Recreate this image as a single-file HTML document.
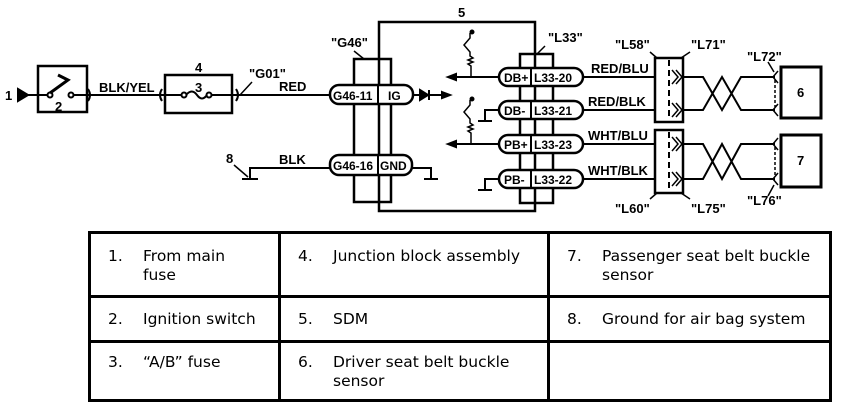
<!DOCTYPE html>
<html><head><style>
body{margin:0;background:#fff;width:864px;height:410px;overflow:hidden}
svg{position:absolute;left:0;top:0}
.l{font-family:"Liberation Sans",sans-serif;font-weight:bold;font-size:13px}
.s{font-size:12px}
table{position:absolute;left:88px;top:231px;border-collapse:collapse;font-family:"DejaVu Sans","Liberation Sans",sans-serif;font-size:15.5px;color:#000}
td{border:3px solid #000;vertical-align:top;padding:13px 4px 0 17px;line-height:19px;box-sizing:border-box}
td span{display:inline-block;width:35px}
</style></head><body>
<svg width="864" height="230" viewBox="0 0 864 230" fill="none" stroke="#000" stroke-width="2">
<text class="l" x="5" y="100" fill="#000" stroke="none">1</text>
<polygon points="18,89 28,95 18,101" fill="#000"/>
<line x1="28" y1="95" x2="165" y2="95"/>
<rect x="38" y="66" width="49" height="46" stroke-width="2.5" fill="#fff"/>
<line x1="39" y1="95" x2="48" y2="95"/><line x1="74" y1="95" x2="92" y2="95"/>
<circle cx="50" cy="95" r="2.5" fill="#fff"/><circle cx="71" cy="95" r="2.5" fill="#fff"/>
<path d="M50,93 L68,80 L58,75" stroke-width="3"/>
<text class="l" x="55" y="111" fill="#000" stroke="none">2</text>
<path d="M88,89 Q92,95 88,101"/>
<text class="l" x="99" y="92" fill="#000" stroke="none">BLK/YEL</text>
<path d="M162,89 Q158,95 162,101"/>
<rect x="165" y="75" width="67" height="38" stroke-width="2.5" fill="#fff"/>
<text class="l" x="195" y="72" fill="#000" stroke="none">4</text>
<line x1="166" y1="95" x2="181" y2="95"/><line x1="212" y1="95" x2="232" y2="95"/>
<circle cx="184" cy="95" r="2.5" fill="#fff"/><circle cx="209" cy="95" r="2.5" fill="#fff"/>
<path d="M186,95 Q192,88 197,95 Q202,102 207,95"/>
<text class="l" x="195" y="92" fill="#000" stroke="none">3</text>
<line x1="232" y1="95" x2="330" y2="95"/>
<path d="M236,89 Q240,95 236,101"/><line x1="240" y1="95" x2="252" y2="82" stroke-width="1.5"/>
<text class="l" x="249" y="78" fill="#000" stroke="none">"G01"</text>
<text class="l" x="279" y="91" fill="#000" stroke="none">RED</text>
<text class="l" x="226" y="163" fill="#000" stroke="none">8</text>
<line x1="234" y1="165" x2="248" y2="177" stroke-width="1.5"/>
<path d="M250,178 V168 H330"/><line x1="242" y1="179" x2="258" y2="179"/>
<text class="l" x="279" y="164" fill="#000" stroke="none">BLK</text>
<rect x="379" y="22" width="156" height="189" stroke-width="2.5"/>
<text class="l" x="458" y="17" fill="#000" stroke="none">5</text>
<rect x="354" y="59" width="37" height="143" stroke-width="2.5"/>
<text class="l" x="331" y="47" fill="#000" stroke="none">"G46"</text>
<line x1="354" y1="51" x2="364" y2="59" stroke-width="1.5"/>
<rect x="330" y="85" width="83" height="19" rx="9" stroke-width="2.5" fill="#fff"/>
<line x1="378" y1="85" x2="378" y2="104"/>
<text class="l s" x="333" y="100" fill="#000" stroke="none">G46-11</text>
<text class="l s" x="388" y="100" fill="#000" stroke="none">IG</text>
<rect x="330" y="155" width="82" height="20" rx="9" stroke-width="2.5" fill="#fff"/>
<line x1="378" y1="155" x2="378" y2="175"/>
<text class="l s" x="333" y="170" fill="#000" stroke="none">G46-16</text>
<text class="l s" x="380" y="170" fill="#000" stroke="none">GND</text>
<line x1="413" y1="95" x2="450" y2="95"/>
<polygon points="420,90 428,95 420,100" fill="#000"/><line x1="429" y1="90" x2="429" y2="100"/>
<polygon points="442,92 450,95 442,98" fill="#000"/>
<path d="M412,168 H431 V178"/><line x1="424" y1="179" x2="438" y2="179"/>
<rect x="520" y="54" width="33" height="149" stroke-width="2.5"/>
<text class="l" x="548" y="42" fill="#000" stroke="none">"L33"</text>
<line x1="545" y1="46" x2="537" y2="54" stroke-width="1.5"/>
<g fill="#fff" stroke-width="2.5">
<rect x="499" y="68" width="84" height="18" rx="9"/>
<rect x="499" y="101" width="84" height="18" rx="9"/>
<rect x="499" y="135" width="84" height="18" rx="9"/>
<rect x="499" y="170" width="84" height="18" rx="9"/>
</g>
<g class="l s" fill="#000" stroke="none">
<text x="504" y="82">DB+</text><text x="534" y="82">L33-20</text>
<text x="504" y="115">DB-</text><text x="534" y="115">L33-21</text>
<text x="504" y="149">PB+</text><text x="534" y="149">L33-23</text>
<text x="504" y="184">PB-</text><text x="534" y="184">L33-22</text>
</g>
<line x1="531" y1="68" x2="531" y2="86"/><line x1="531" y1="101" x2="531" y2="119"/>
<line x1="531" y1="135" x2="531" y2="153"/><line x1="531" y1="170" x2="531" y2="188"/>
<line x1="450" y1="77" x2="499" y2="77"/><polygon points="448,77 456,74 456,80" fill="#000"/>
<path d="M471,77 V66 l-3,-2 l5,-2 l-5,-2 l5,-2 l-3,-2 V52 l-6,-7 l6,-7 V33" stroke-width="1.5"/><circle cx="472" cy="32" r="1.5" fill="#000"/>
<line x1="450" y1="144" x2="499" y2="144"/><polygon points="448,144 456,141 456,147" fill="#000"/>
<path d="M471,144 V133 l-3,-2 l5,-2 l-5,-2 l5,-2 l-3,-2 V119 l-6,-7 l6,-7 V100" stroke-width="1.5"/><circle cx="472" cy="99" r="1.5" fill="#000"/>
<path d="M499,110 H485 V120"/><line x1="478" y1="121" x2="492" y2="121"/>
<path d="M499,179 H485 V189"/><line x1="478" y1="190" x2="492" y2="190"/>
<g>
<line x1="583" y1="77" x2="655" y2="77"/><line x1="583" y1="110" x2="655" y2="110"/>
<line x1="583" y1="144" x2="655" y2="144"/><line x1="583" y1="179" x2="655" y2="179"/>
</g>
<g class="l" fill="#000" stroke="none">
<text x="591" y="73">RED/BLU</text><text x="588" y="106">RED/BLK</text>
<text x="588" y="140">WHT/BLU</text><text x="588" y="175">WHT/BLK</text>
<text x="615" y="49">"L58"</text><text x="691" y="49">"L71"</text>
<text x="747" y="61">"L72"</text>
<text x="615" y="213">"L60"</text><text x="691" y="213">"L75"</text>
<text x="747" y="205">"L76"</text>
<text x="797" y="97">6</text><text x="797" y="165">7</text>
</g>
<rect x="655" y="58" width="28" height="64" stroke-width="2.5"/>
<rect x="655" y="130" width="28" height="63" stroke-width="2.5"/>
<line x1="650" y1="52" x2="657" y2="58" stroke-width="1.5"/><line x1="690" y1="52" x2="681" y2="58" stroke-width="1.5"/>
<line x1="650" y1="199" x2="657" y2="193" stroke-width="1.5"/><line x1="690" y1="199" x2="681" y2="193" stroke-width="1.5"/>
<line x1="669" y1="60" x2="669" y2="120" stroke-dasharray="6,4"/>
<line x1="669" y1="132" x2="669" y2="191" stroke-dasharray="6,4"/>
<g stroke-width="1.5">
<path d="M672,70 l6,7 l-6,7 M676,70 l6,7 l-6,7"/><path d="M672,103 l6,7 l-6,7 M676,103 l6,7 l-6,7"/>
<path d="M672,137 l6,7 l-6,7 M676,137 l6,7 l-6,7"/><path d="M672,172 l6,7 l-6,7 M676,172 l6,7 l-6,7"/>
</g>
<path d="M683,77 H703 L722,110 L741,77 H775"/><path d="M683,110 H703 L722,77 L741,110 H775"/>
<path d="M683,144 H703 L722,179 L741,144 H775"/><path d="M683,179 H703 L722,144 L741,179 H775"/>
<g stroke-width="1.5"><path d="M778,71 l-5,6 l5,6 M778,104 l-5,6 l5,6 M778,138 l-5,6 l5,6 M778,173 l-5,6 l5,6"/>
<line x1="775" y1="80" x2="775" y2="107" stroke-dasharray="3,2"/><line x1="775" y1="147" x2="775" y2="176" stroke-dasharray="3,2"/>
<line x1="768" y1="62" x2="774" y2="72"/><line x1="768" y1="196" x2="774" y2="185"/></g>
<rect x="781" y="67" width="40" height="51" stroke-width="3"/>
<rect x="781" y="135" width="40" height="52" stroke-width="3"/>
</svg>
<table>
<tr style="height:64px"><td style="width:190px"><span>1.</span>From main<br><span></span>fuse</td><td style="width:269px"><span>4.</span>Junction block assembly</td><td style="width:282px"><span>7.</span>Passenger seat belt buckle<br><span></span>sensor</td></tr>
<tr style="height:45px"><td style="padding-top:12px"><span>2.</span>Ignition switch</td><td style="padding-top:12px"><span>5.</span>SDM</td><td style="padding-top:12px"><span>8.</span>Ground for air bag system</td></tr>
<tr style="height:59px"><td style="padding-top:10px"><span>3.</span>“A/B” fuse</td><td style="padding-top:10px"><span>6.</span>Driver seat belt buckle<br><span></span>sensor</td><td></td></tr>
</table>
</body></html>
